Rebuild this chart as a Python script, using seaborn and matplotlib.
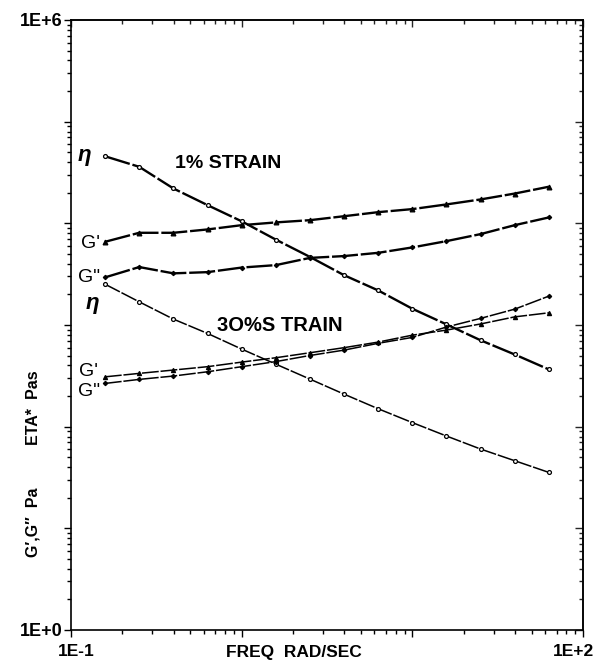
import numpy as np
import pandas as pd
import matplotlib
matplotlib.use("Agg")
import matplotlib.pyplot as plt
import seaborn as sns
from matplotlib.ticker import LogLocator, NullFormatter

# ---- data (log10 values) ----
freq = [0.158, 0.251, 0.398, 0.631, 1.0, 1.585, 2.51, 3.98, 6.31, 10.0, 15.85, 25.1, 39.8, 63.1]

eta_1 = [4.66, 4.556, 4.343, 4.179, 4.02, 3.84, 3.67, 3.49, 3.34, 3.16, 3.006, 2.85, 2.71, 2.563]
gp_1 = [3.818, 3.907, 3.907, 3.94, 3.982, 4.009, 4.031, 4.07, 4.11, 4.14, 4.186, 4.235, 4.293, 4.36]
gpp_1 = [3.468, 3.57, 3.508, 3.52, 3.565, 3.589, 3.66, 3.678, 3.71, 3.763, 3.825, 3.894, 3.982, 4.058]

eta_30 = [3.402, 3.228, 3.058, 2.917, 2.763, 2.615, 2.468, 2.32, 2.176, 2.04, 1.908, 1.78, 1.665, 1.55]
gp_30 = [2.49, 2.524, 2.557, 2.59, 2.635, 2.678, 2.727, 2.777, 2.832, 2.9, 2.95, 3.01, 3.08, 3.12]
gpp_30 = [2.425, 2.465, 2.498, 2.54, 2.59, 2.64, 2.70, 2.753, 2.82, 2.878, 2.98, 3.065, 3.156, 3.284]

series = {
    "eta_1": eta_1, "gp_1": gp_1, "gpp_1": gpp_1,
    "eta_30": eta_30, "gp_30": gp_30, "gpp_30": gpp_30,
}

sns.set_theme(style="white")
plt.rcParams['font.family'] = ['Liberation Sans', 'DejaVu Sans']

W, H = 609, 666
fig = plt.figure(figsize=(W / 100, H / 100), dpi=100)
ax = fig.add_axes([71 / W, 1 - 630 / H, (583 - 71) / W, (630 - 20) / H])

styles = {
    "eta_1": dict(marker="o", mfc="white", ms=2.8, lw=1.7),
    "gp_1": dict(marker="^", mfc="black", ms=3.4, lw=1.7),
    "gpp_1": dict(marker="D", mfc="black", ms=2.2, lw=1.7),
    "eta_30": dict(marker="o", mfc="white", ms=2.8, lw=1.1),
    "gp_30": dict(marker="^", mfc="black", ms=3.0, lw=1.1),
    "gpp_30": dict(marker="D", mfc="black", ms=2.2, lw=1.1),
}

for name, vals in series.items():
    df = pd.DataFrame({"freq": freq, "val": np.power(10.0, vals)})
    st = styles[name]
    sns.lineplot(data=df, x="freq", y="val", ax=ax, color="black",
                 linewidth=st["lw"], marker=st["marker"], markersize=st["ms"],
                 markerfacecolor=st["mfc"], markeredgecolor="black",
                 markeredgewidth=0.9, dashes=(11, 1.2), legend=False)

ax.set_xscale("log")
ax.set_yscale("log")
ax.set_xlim(0.1, 100)
ax.set_ylim(1, 1e6)
ax.set_xlabel("")
ax.set_ylabel("")
ax.grid(False)

for s in ax.spines.values():
    s.set_visible(True)
    s.set_color("black")
    s.set_linewidth(1.2)

ax.set_xticks([0.1, 1, 10, 100], labels=["", "", "", ""])
ax.set_yticks([1, 10, 100, 1e3, 1e4, 1e5, 1e6], labels=["1E+0", "", "", "", "", "", "1E+6"])
ax.xaxis.set_minor_locator(LogLocator(base=10, subs=np.arange(2, 10)))
ax.yaxis.set_minor_locator(LogLocator(base=10, subs=np.arange(2, 10)))
ax.xaxis.set_minor_formatter(NullFormatter())
ax.yaxis.set_minor_formatter(NullFormatter())
ax.tick_params(axis="both", which="both", colors="black", width=1.0)
ax.tick_params(axis="x", which="both", bottom=True, top=False, direction="out")
ax.tick_params(axis="y", which="both", left=True, right=False, direction="out")
ax.tick_params(which="major", length=5)
ax.tick_params(which="minor", length=3)
ax.tick_params(axis="y", labelsize=13, pad=1)
for lab in ax.get_yticklabels():
    lab.set_fontweight("bold")

# inward ticks on top and right
top = ax.secondary_xaxis("top")
top.set_xticks([0.1, 1, 10, 100], labels=["", "", "", ""])
top.xaxis.set_minor_locator(LogLocator(base=10, subs=np.arange(2, 10)))
top.xaxis.set_minor_formatter(NullFormatter())
top.tick_params(which="both", direction="in", width=1.0)
top.tick_params(which="major", length=5)
top.tick_params(which="minor", length=3)
right = ax.secondary_yaxis("right")
right.set_yticks([1, 10, 100, 1e3, 1e4, 1e5, 1e6], labels=[""] * 7)
right.yaxis.set_minor_locator(LogLocator(base=10, subs=np.arange(2, 10)))
right.yaxis.set_minor_formatter(NullFormatter())
right.tick_params(which="both", direction="in", width=1.0)
right.tick_params(which="major", length=6)
right.tick_params(which="minor", length=3)

def ftext(x, y, s, **kw):
    fig.text(x / W, 1 - y / H, s, **kw)

bold = dict(fontweight="bold", color="black")
ftext(76, 652, "1E-1", ha="center", va="center", fontsize=12.5, **bold)
ftext(573, 652, "1E+2", ha="center", va="center", fontsize=12.5, **bold)
ftext(294, 652, "FREQ  RAD/SEC", ha="center", va="center", fontsize=12.5, **bold)
ftext(33, 408, "ETA*  Pas", ha="center", va="center", rotation=90, fontsize=11.5, **bold)
ftext(33, 522, "G\u2032,G\u2033  Pa", ha="center", va="center", rotation=90, fontsize=11.5, **bold)

ftext(228, 163, "1% STRAIN", ha="center", va="center", fontsize=14, **bold)
ftext(280, 325, "3O%S TRAIN", ha="center", va="center", fontsize=14.5, **bold)

lab = dict(color="black", fontsize=14)
ftext(84, 155, "η", ha="center", va="center", fontsize=16, style="italic", fontweight="bold", color="black")
ftext(90, 244, "G'", ha="center", va="center", **lab)
ftext(89, 278, "G\"", ha="center", va="center", **lab)
ftext(92, 303, "η", ha="center", va="center", fontsize=16, style="italic", fontweight="bold", color="black")
ftext(89, 372, "G'", ha="center", va="center", **lab)
ftext(89, 391, "G\"", ha="center", va="center", **lab)

fig.savefig("out.png", dpi=100, facecolor="white")
